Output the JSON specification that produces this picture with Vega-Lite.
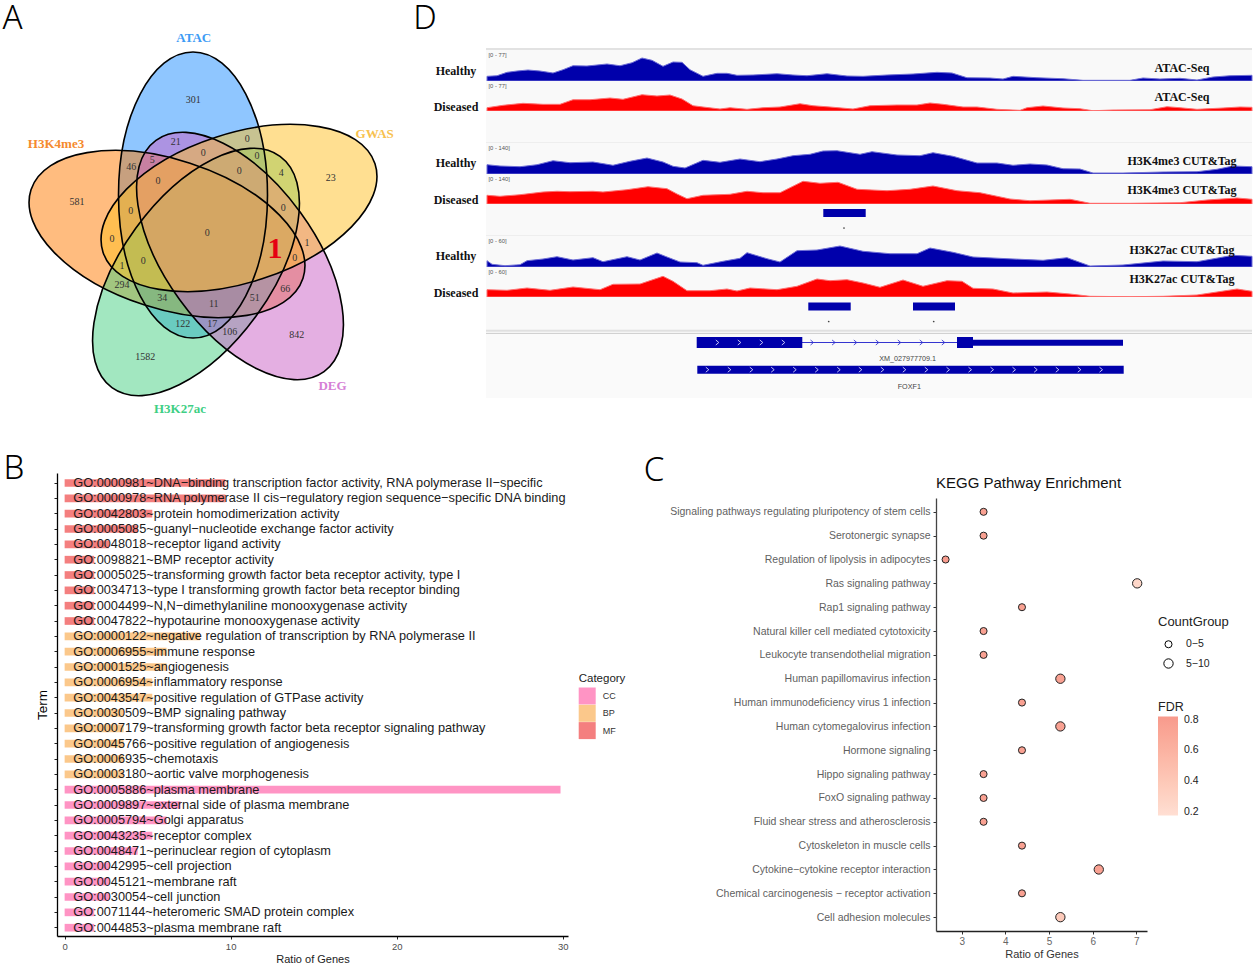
{"$schema":"https://vega.github.io/schema/vega-lite/v6.json","background":"white","padding":0,"spacing":-21,
"config":{"view":{"stroke":null},"axis":{"grid":false,"labelFont":"Liberation Sans","titleFont":"Liberation Sans","titleFontWeight":"normal"},"legend":{"labelFont":"Liberation Sans","titleFont":"Liberation Sans","titleFontWeight":"normal"}},
"resolve":{"scale":{"fill":"independent","size":"independent"}},
"datasets":{
"sets":[{"set":"ATAC","cx":193,"cy":195},{"set":"H3K4me3","cx":167,"cy":234},{"set":"GWAS","cx":239,"cy":208},{"set":"H3K27ac","cx":196,"cy":272},{"set":"DEG","cx":240,"cy":256}],
"setLabels":[{"label":"ATAC","x":193.7,"y":37.5,"c":"ATAC"},{"label":"H3K4me3","x":56,"y":144,"c":"H3K4me3"},{"label":"GWAS","x":374.7,"y":133.7,"c":"GWAS"},{"label":"DEG","x":332.5,"y":386,"c":"DEG"},{"label":"H3K27ac","x":180,"y":408.5,"c":"H3K27ac"}],
"counts":[{"n":"301","x":193.3,"y":99.5},{"n":"581","x":77,"y":202},{"n":"23","x":330.7,"y":177.5},{"n":"1582","x":145.3,"y":357},{"n":"842","x":296.7,"y":335},{"n":"21","x":175.7,"y":142},{"n":"46","x":131.3,"y":166.7},{"n":"5","x":152.3,"y":160},{"n":"0","x":247.3,"y":139},{"n":"0","x":257,"y":155.7},{"n":"0","x":203.3,"y":152.7},{"n":"4","x":281.3,"y":173},{"n":"0","x":239.3,"y":171},{"n":"0","x":158,"y":181},{"n":"0","x":283.3,"y":208},{"n":"0","x":130.7,"y":210.7},{"n":"0","x":112,"y":239.3},{"n":"1","x":307,"y":242.7},{"n":"0","x":207.3,"y":233.3},{"n":"0","x":294.7,"y":258},{"n":"1","x":122,"y":265.7},{"n":"0","x":143.3,"y":261},{"n":"294","x":122,"y":285},{"n":"66","x":285.3,"y":289},{"n":"34","x":162.3,"y":298},{"n":"51","x":254.7,"y":298.3},{"n":"11","x":213.7,"y":303.7},{"n":"122","x":182.7,"y":324.3},{"n":"17","x":212.3,"y":324.3},{"n":"106","x":229.7,"y":332}],
"atacH":[{"pos":1,"signal":11.7},{"pos":11,"signal":13.2},{"pos":21,"signal":21.7},{"pos":31,"signal":25},{"pos":42,"signal":27.5},{"pos":54,"signal":25},{"pos":67,"signal":20},{"pos":77,"signal":28.2},{"pos":87,"signal":38.2},{"pos":101,"signal":37.5},{"pos":121,"signal":42.5},{"pos":134,"signal":38.2},{"pos":146,"signal":45.7},{"pos":156,"signal":57.5},{"pos":166,"signal":51.7},{"pos":177,"signal":36.7},{"pos":187,"signal":47.5},{"pos":196,"signal":46.7},{"pos":204,"signal":28.2},{"pos":217,"signal":11.7},{"pos":231,"signal":19.2},{"pos":241,"signal":19.2},{"pos":251,"signal":14.2},{"pos":267,"signal":15},{"pos":291,"signal":18.2},{"pos":307,"signal":15},{"pos":321,"signal":13.2},{"pos":341,"signal":18.2},{"pos":361,"signal":12.5},{"pos":377,"signal":11.7},{"pos":401,"signal":15},{"pos":427,"signal":17.5},{"pos":451,"signal":21.7},{"pos":466,"signal":20},{"pos":481,"signal":8.2},{"pos":504,"signal":7.5},{"pos":517,"signal":5},{"pos":527,"signal":11.7},{"pos":551,"signal":8.2},{"pos":577,"signal":5.7},{"pos":597,"signal":1.7},{"pos":644,"signal":1.7},{"pos":657,"signal":7.5},{"pos":674,"signal":5},{"pos":694,"signal":6.7},{"pos":711,"signal":2.5},{"pos":727,"signal":10},{"pos":744,"signal":13.2},{"pos":766,"signal":14.2}],
"atacD":[{"pos":1,"signal":8.2},{"pos":17,"signal":14.2},{"pos":37,"signal":19.2},{"pos":57,"signal":16.7},{"pos":74,"signal":16.7},{"pos":87,"signal":28.2},{"pos":104,"signal":28.2},{"pos":124,"signal":32.5},{"pos":137,"signal":29.2},{"pos":156,"signal":40.7},{"pos":171,"signal":37.5},{"pos":184,"signal":40},{"pos":196,"signal":30},{"pos":207,"signal":13.2},{"pos":217,"signal":10},{"pos":234,"signal":5},{"pos":244,"signal":8.2},{"pos":261,"signal":4.2},{"pos":277,"signal":8.2},{"pos":294,"signal":10},{"pos":314,"signal":18.2},{"pos":327,"signal":13.2},{"pos":344,"signal":10},{"pos":367,"signal":5},{"pos":384,"signal":13.2},{"pos":411,"signal":15},{"pos":431,"signal":15},{"pos":444,"signal":20},{"pos":457,"signal":16.7},{"pos":477,"signal":10},{"pos":491,"signal":10},{"pos":511,"signal":4.2},{"pos":534,"signal":1.7},{"pos":541,"signal":8.2},{"pos":557,"signal":12.5},{"pos":577,"signal":7.5},{"pos":594,"signal":5.7},{"pos":607,"signal":0.7},{"pos":627,"signal":2.5},{"pos":664,"signal":3.2},{"pos":681,"signal":10.7},{"pos":694,"signal":8.2},{"pos":711,"signal":4.2},{"pos":737,"signal":7.5},{"pos":754,"signal":10},{"pos":766,"signal":9.2}],
"k4H":[{"pos":1,"signal":41.8},{"pos":14,"signal":36},{"pos":34,"signal":32.8},{"pos":51,"signal":41.8},{"pos":67,"signal":59.8},{"pos":84,"signal":50.8},{"pos":107,"signal":54},{"pos":127,"signal":39.2},{"pos":144,"signal":57.2},{"pos":161,"signal":72},{"pos":177,"signal":54},{"pos":187,"signal":34.6},{"pos":199,"signal":27},{"pos":217,"signal":61.6},{"pos":234,"signal":52.6},{"pos":254,"signal":67.5},{"pos":274,"signal":55.4},{"pos":291,"signal":67.5},{"pos":307,"signal":82.4},{"pos":324,"signal":88.6},{"pos":337,"signal":103.5},{"pos":351,"signal":104.8},{"pos":374,"signal":88.6},{"pos":386,"signal":100.4},{"pos":411,"signal":85.5},{"pos":434,"signal":82.4},{"pos":447,"signal":95.8},{"pos":467,"signal":79.6},{"pos":491,"signal":49.5},{"pos":511,"signal":49.5},{"pos":527,"signal":39.2},{"pos":544,"signal":45},{"pos":561,"signal":40.5},{"pos":577,"signal":23.8},{"pos":594,"signal":22.5},{"pos":607,"signal":4.5},{"pos":637,"signal":4.5},{"pos":677,"signal":9},{"pos":711,"signal":10.4},{"pos":731,"signal":21.2},{"pos":747,"signal":36},{"pos":766,"signal":32.8}],
"k4D":[{"pos":1,"signal":39.2},{"pos":14,"signal":34.6},{"pos":34,"signal":41.8},{"pos":57,"signal":54},{"pos":71,"signal":57.2},{"pos":84,"signal":55.4},{"pos":107,"signal":57.2},{"pos":117,"signal":54},{"pos":141,"signal":64.4},{"pos":162,"signal":77.8},{"pos":181,"signal":68.8},{"pos":191,"signal":45},{"pos":201,"signal":23.8},{"pos":217,"signal":39.2},{"pos":244,"signal":43.6},{"pos":261,"signal":57.2},{"pos":277,"signal":50.8},{"pos":294,"signal":50.8},{"pos":317,"signal":102.2},{"pos":334,"signal":93.2},{"pos":352,"signal":97.6},{"pos":371,"signal":66.2},{"pos":401,"signal":59.8},{"pos":424,"signal":66.2},{"pos":447,"signal":81},{"pos":471,"signal":59.8},{"pos":494,"signal":50.8},{"pos":524,"signal":22.5},{"pos":544,"signal":14.8},{"pos":584,"signal":21.2},{"pos":604,"signal":3.2},{"pos":644,"signal":3.2},{"pos":694,"signal":5.8},{"pos":721,"signal":18},{"pos":751,"signal":27},{"pos":766,"signal":21.2}],
"k27H":[{"pos":1,"signal":12.6},{"pos":6,"signal":5.4},{"pos":19,"signal":2.6},{"pos":34,"signal":4.6},{"pos":41,"signal":12.6},{"pos":57,"signal":16},{"pos":71,"signal":20.6},{"pos":87,"signal":14},{"pos":107,"signal":18.6},{"pos":117,"signal":10.6},{"pos":141,"signal":20.6},{"pos":154,"signal":14},{"pos":171,"signal":28},{"pos":181,"signal":20},{"pos":194,"signal":10},{"pos":211,"signal":8.6},{"pos":217,"signal":3.4},{"pos":237,"signal":11.4},{"pos":254,"signal":17.4},{"pos":261,"signal":28.6},{"pos":281,"signal":16.6},{"pos":294,"signal":10},{"pos":311,"signal":32.6},{"pos":331,"signal":34},{"pos":354,"signal":42},{"pos":377,"signal":31.4},{"pos":404,"signal":26.6},{"pos":431,"signal":26.6},{"pos":444,"signal":38},{"pos":467,"signal":29.4},{"pos":487,"signal":20},{"pos":521,"signal":16.6},{"pos":557,"signal":13.4},{"pos":581,"signal":18.6},{"pos":604,"signal":2},{"pos":637,"signal":4},{"pos":677,"signal":12},{"pos":711,"signal":10.6},{"pos":747,"signal":23.4},{"pos":766,"signal":21.4}],
"k27D":[{"pos":1,"signal":14.6},{"pos":21,"signal":13.4},{"pos":41,"signal":18},{"pos":64,"signal":13.4},{"pos":87,"signal":20},{"pos":114,"signal":14.6},{"pos":127,"signal":25.4},{"pos":154,"signal":26},{"pos":177,"signal":41.4},{"pos":187,"signal":31.4},{"pos":201,"signal":12.6},{"pos":224,"signal":12.6},{"pos":241,"signal":16},{"pos":251,"signal":12},{"pos":264,"signal":18},{"pos":291,"signal":14.6},{"pos":311,"signal":21.4},{"pos":331,"signal":36},{"pos":344,"signal":32.6},{"pos":361,"signal":34.6},{"pos":377,"signal":28},{"pos":394,"signal":19.4},{"pos":417,"signal":34},{"pos":437,"signal":21.4},{"pos":461,"signal":32.6},{"pos":476,"signal":31.4},{"pos":487,"signal":17.4},{"pos":507,"signal":16},{"pos":527,"signal":8},{"pos":561,"signal":10},{"pos":584,"signal":6},{"pos":604,"signal":1.4},{"pos":644,"signal":0.6},{"pos":677,"signal":1.4},{"pos":711,"signal":4},{"pos":751,"signal":16},{"pos":766,"signal":11.4}],
"terms":[{"term":"GO:0000981~DNA−binding transcription factor activity, RNA polymerase II−specific","category":"MF","ratio":9.68},{"term":"GO:0000978~RNA polymerase II cis−regulatory region sequence−specific DNA binding","category":"MF","ratio":9.68},{"term":"GO:0042803~protein homodimerization activity","category":"MF","ratio":5.28},{"term":"GO:0005085~guanyl−nucleotide exchange factor activity","category":"MF","ratio":4.4},{"term":"GO:0048018~receptor ligand activity","category":"MF","ratio":2.67},{"term":"GO:0098821~BMP receptor activity","category":"MF","ratio":1.78},{"term":"GO:0005025~transforming growth factor beta receptor activity, type I","category":"MF","ratio":1.78},{"term":"GO:0034713~type I transforming growth factor beta receptor binding","category":"MF","ratio":1.78},{"term":"GO:0004499~N,N−dimethylaniline monooxygenase activity","category":"MF","ratio":1.78},{"term":"GO:0047822~hypotaurine monooxygenase activity","category":"MF","ratio":1.78},{"term":"GO:0000122~negative regulation of transcription by RNA polymerase II","category":"BP","ratio":8.15},{"term":"GO:0006955~immune response","category":"BP","ratio":6.14},{"term":"GO:0001525~angiogenesis","category":"BP","ratio":6.14},{"term":"GO:0006954~inflammatory response","category":"BP","ratio":5.28},{"term":"GO:0043547~positive regulation of GTPase activity","category":"BP","ratio":5.28},{"term":"GO:0030509~BMP signaling pathway","category":"BP","ratio":3.55},{"term":"GO:0007179~transforming growth factor beta receptor signaling pathway","category":"BP","ratio":3.55},{"term":"GO:0045766~positive regulation of angiogenesis","category":"BP","ratio":3.55},{"term":"GO:0006935~chemotaxis","category":"BP","ratio":3.55},{"term":"GO:0003180~aortic valve morphogenesis","category":"BP","ratio":3.55},{"term":"GO:0005886~plasma membrane","category":"CC","ratio":29.87},{"term":"GO:0009897~external side of plasma membrane","category":"CC","ratio":6.98},{"term":"GO:0005794~Golgi apparatus","category":"CC","ratio":6.14},{"term":"GO:0043235~receptor complex","category":"CC","ratio":5.28},{"term":"GO:0048471~perinuclear region of cytoplasm","category":"CC","ratio":4.4},{"term":"GO:0042995~cell projection","category":"CC","ratio":2.67},{"term":"GO:0045121~membrane raft","category":"CC","ratio":2.67},{"term":"GO:0030054~cell junction","category":"CC","ratio":2.67},{"term":"GO:0071144~heteromeric SMAD protein complex","category":"CC","ratio":1.78},{"term":"GO:0044853~plasma membrane raft","category":"CC","ratio":1.78}],
"kegg":[{"term":"Signaling pathways regulating pluripotency of stem cells","ratio":3.5,"group":"0−5","fdr":0.76},{"term":"Serotonergic synapse","ratio":3.5,"group":"0−5","fdr":0.76},{"term":"Regulation of lipolysis in adipocytes","ratio":2.63,"group":"0−5","fdr":0.8},{"term":"Ras signaling pathway","ratio":7.02,"group":"5−10","fdr":0.25},{"term":"Rap1 signaling pathway","ratio":4.38,"group":"0−5","fdr":0.76},{"term":"Natural killer cell mediated cytotoxicity","ratio":3.5,"group":"0−5","fdr":0.76},{"term":"Leukocyte transendothelial migration","ratio":3.5,"group":"0−5","fdr":0.76},{"term":"Human papillomavirus infection","ratio":5.26,"group":"5−10","fdr":0.76},{"term":"Human immunodeficiency virus 1 infection","ratio":4.38,"group":"0−5","fdr":0.76},{"term":"Human cytomegalovirus infection","ratio":5.26,"group":"5−10","fdr":0.76},{"term":"Hormone signaling","ratio":4.38,"group":"0−5","fdr":0.76},{"term":"Hippo signaling pathway","ratio":3.5,"group":"0−5","fdr":0.76},{"term":"FoxO signaling pathway","ratio":3.5,"group":"0−5","fdr":0.76},{"term":"Fluid shear stress and atherosclerosis","ratio":3.5,"group":"0−5","fdr":0.76},{"term":"Cytoskeleton in muscle cells","ratio":4.38,"group":"0−5","fdr":0.76},{"term":"Cytokine−cytokine receptor interaction","ratio":6.14,"group":"5−10","fdr":0.76},{"term":"Chemical carcinogenesis − receptor activation","ratio":4.38,"group":"0−5","fdr":0.76},{"term":"Cell adhesion molecules","ratio":5.26,"group":"5−10","fdr":0.38}]
},
"vconcat":[
{"bounds":"flush","spacing":0,"hconcat":[
{"width":486,"height":473,"encoding":{"x":{"field":"cx","type":"quantitative","scale":{"domain":[0,486],"nice":false},"axis":null},"y":{"field":"cy","type":"quantitative","scale":{"domain":[473,0],"nice":false},"axis":null}},
"layer":[
{"data":{"name":"sets"},"transform":[{"filter":"datum.set==='ATAC'"}],"mark":{"type":"point","filled":true,"opacity":1,"size":4,"shape":"M0 -143 A74.5 143 0 1 1 0 143 A74.5 143 0 1 1 0 -143 Z","fill":"#1F8DFF","fillOpacity":0.5,"strokeWidth":0}},
{"data":{"name":"sets"},"transform":[{"filter":"datum.set==='H3K4me3'"}],"mark":{"type":"point","filled":true,"opacity":1,"size":4,"shape":"M136 44.2 A143 74.5 18 1 1 -136 -44.2 A143 74.5 18 1 1 136 44.2 Z","fill":"#FF7900","fillOpacity":0.5,"strokeWidth":0}},
{"data":{"name":"sets"},"transform":[{"filter":"datum.set==='H3K27ac'"}],"mark":{"type":"point","filled":true,"opacity":1,"size":4,"shape":"M84.05 -115.7 A143 74.5 -54 1 1 -84.05 115.7 A143 74.5 -54 1 1 84.05 -115.7 Z","fill":"#45CF81","fillOpacity":0.5,"strokeWidth":0}},
{"data":{"name":"sets"},"transform":[{"filter":"datum.set==='DEG'"}],"mark":{"type":"point","filled":true,"opacity":1,"size":4,"shape":"M84.05 115.7 A143 74.5 54 1 1 -84.05 -115.7 A143 74.5 54 1 1 84.05 115.7 Z","fill":"#C95FC5","fillOpacity":0.5,"strokeWidth":0}},
{"data":{"name":"sets"},"transform":[{"filter":"datum.set==='GWAS'"}],"mark":{"type":"point","filled":true,"opacity":1,"size":4,"shape":"M136 -44.2 A143 74.5 -18 1 1 -136 44.2 A143 74.5 -18 1 1 136 -44.2 Z","fill":"#FFBF23","fillOpacity":0.5,"strokeWidth":0}},
{"data":{"name":"sets"},"transform":[{"filter":"datum.set==='ATAC'"}],"mark":{"type":"point","opacity":1,"size":4,"shape":"M0 -143 A74.5 143 0 1 1 0 143 A74.5 143 0 1 1 0 -143 Z","stroke":"#000","strokeWidth":1.6}},
{"data":{"name":"sets"},"transform":[{"filter":"datum.set==='H3K4me3'"}],"mark":{"type":"point","opacity":1,"size":4,"shape":"M136 44.2 A143 74.5 18 1 1 -136 -44.2 A143 74.5 18 1 1 136 44.2 Z","stroke":"#000","strokeWidth":1.6}},
{"data":{"name":"sets"},"transform":[{"filter":"datum.set==='GWAS'"}],"mark":{"type":"point","opacity":1,"size":4,"shape":"M136 -44.2 A143 74.5 -18 1 1 -136 44.2 A143 74.5 -18 1 1 136 -44.2 Z","stroke":"#000","strokeWidth":1.6}},
{"data":{"name":"sets"},"transform":[{"filter":"datum.set==='H3K27ac'"}],"mark":{"type":"point","opacity":1,"size":4,"shape":"M84.05 -115.7 A143 74.5 -54 1 1 -84.05 115.7 A143 74.5 -54 1 1 84.05 -115.7 Z","stroke":"#000","strokeWidth":1.6}},
{"data":{"name":"sets"},"transform":[{"filter":"datum.set==='DEG'"}],"mark":{"type":"point","opacity":1,"size":4,"shape":"M84.05 115.7 A143 74.5 54 1 1 -84.05 -115.7 A143 74.5 54 1 1 84.05 115.7 Z","stroke":"#000","strokeWidth":1.6}},
{"data":{"name":"counts"},"mark":{"type":"text","font":"Liberation Serif","fontSize":10,"color":"#333"},"encoding":{"x":{"field":"x","type":"quantitative"},"y":{"field":"y","type":"quantitative"},"text":{"field":"n"}}},
{"data":{"values":[{"n":"1","x":275,"y":249}]},"mark":{"type":"text","font":"Liberation Serif","fontWeight":"bold","fontSize":30,"color":"#E60012"},"encoding":{"x":{"field":"x","type":"quantitative"},"y":{"field":"y","type":"quantitative"},"text":{"field":"n"}}},
{"data":{"name":"setLabels"},"mark":{"type":"text","font":"Liberation Serif","fontWeight":"bold","fontSize":13},"encoding":{"x":{"field":"x","type":"quantitative"},"y":{"field":"y","type":"quantitative"},"text":{"field":"label"},"color":{"field":"c","type":"nominal","legend":null,"scale":{"domain":["ATAC","H3K4me3","GWAS","DEG","H3K27ac"],"range":["#3D9BF5","#F58A2E","#F7C14E","#D67FD6","#3FCF85"]}}}},
{"data":{"values":[{"n":"A","x":12.5,"y":19},{"n":"D","x":425,"y":19}]},"mark":{"type":"text","font":"Noto Sans","fontWeight":300,"fontSize":33,"color":"#000"},"encoding":{"x":{"field":"x","type":"quantitative"},"y":{"field":"y","type":"quantitative"},"text":{"field":"n"}}}
]},
{"bounds":"flush","spacing":0,"vconcat":[
{"width":766,"height":50,"data":{"values":[{"y":49}]},"mark":{"type":"rule","color":"#e2e2e2","strokeWidth":2},"encoding":{"y":{"field":"y","type":"quantitative","scale":{"domain":[50,0],"nice":false},"axis":null}}},
{"width":766,"height":31,"view":{"fill":"#f9f9f9"},"encoding":{"x":{"field":"pos","type":"quantitative","scale":{"domain":[0,766],"nice":false},"axis":null},"y":{"field":"signal","type":"quantitative","stack":null,"scale":{"domain":[0,77.5],"nice":false},"axis":null}},"layer":[
{"data":{"name":"atacH"},"mark":{"type":"area","orient":"vertical","color":"#0000AB","stroke":"#6E6ED6","strokeWidth":1}},
{"data":{"values":[{"label":"Healthy","pos":-30,"signal":26},{"label":"ATAC-Seq","pos":696,"signal":33.7}]},"mark":{"type":"text","font":"Liberation Serif","fontWeight":"bold","fontSize":12,"color":"#111"},"encoding":{"text":{"field":"label"}}},
{"data":{"values":[{"label":"[0 - 77]","pos":2.5,"signal":66}]},"mark":{"type":"text","align":"left","font":"Liberation Sans","fontSize":5.8,"color":"#555"},"encoding":{"text":{"field":"label"}}}]},
{"width":766,"height":30,"view":{"fill":"#f9f9f9"},"encoding":{"x":{"field":"pos","type":"quantitative","scale":{"domain":[0,766],"nice":false},"axis":null},"y":{"field":"signal","type":"quantitative","stack":null,"scale":{"domain":[0,75],"nice":false},"axis":null}},"layer":[
{"data":{"name":"atacD"},"mark":{"type":"area","orient":"vertical","color":"#FF0000","stroke":"#FF7070","strokeWidth":1}},
{"data":{"values":[{"label":"Diseased","pos":-30,"signal":11},{"label":"ATAC-Seq","pos":696,"signal":36.2}]},"mark":{"type":"text","font":"Liberation Serif","fontWeight":"bold","fontSize":12,"color":"#111"},"encoding":{"text":{"field":"label"}}},
{"data":{"values":[{"label":"[0 - 77]","pos":2.5,"signal":63.7}]},"mark":{"type":"text","align":"left","font":"Liberation Sans","fontSize":5.8,"color":"#555"},"encoding":{"text":{"field":"label"}}}]},
{"width":766,"height":32,"view":{"fill":"#f9f9f9"},"data":{"values":[{"y":31.5}]},"mark":{"type":"rule","color":"#eeeeee","strokeWidth":1},"encoding":{"y":{"field":"y","type":"quantitative","scale":{"domain":[32,0],"nice":false},"axis":null}}},
{"width":766,"height":31,"view":{"fill":"#f9f9f9"},"encoding":{"x":{"field":"pos","type":"quantitative","scale":{"domain":[0,766],"nice":false},"axis":null},"y":{"field":"signal","type":"quantitative","stack":null,"scale":{"domain":[0,139.5],"nice":false},"axis":null}},"layer":[
{"data":{"name":"k4H"},"mark":{"type":"area","orient":"vertical","color":"#0000AB","stroke":"#6E6ED6","strokeWidth":1}},
{"data":{"values":[{"label":"Healthy","pos":-30,"signal":49.5},{"label":"H3K4me3 CUT&Tag","pos":696,"signal":60.7}]},"mark":{"type":"text","font":"Liberation Serif","fontWeight":"bold","fontSize":12,"color":"#111"},"encoding":{"text":{"field":"label"}}},
{"data":{"values":[{"label":"[0 - 140]","pos":2.5,"signal":117}]},"mark":{"type":"text","align":"left","font":"Liberation Sans","fontSize":5.8,"color":"#555"},"encoding":{"text":{"field":"label"}}}]},
{"width":766,"height":30,"view":{"fill":"#f9f9f9"},"encoding":{"x":{"field":"pos","type":"quantitative","scale":{"domain":[0,766],"nice":false},"axis":null},"y":{"field":"signal","type":"quantitative","stack":null,"scale":{"domain":[0,135],"nice":false},"axis":null}},"layer":[
{"data":{"name":"k4D"},"mark":{"type":"area","orient":"vertical","color":"#FF0000","stroke":"#FF7070","strokeWidth":1}},
{"data":{"values":[{"label":"Diseased","pos":-30,"signal":20},{"label":"H3K4me3 CUT&Tag","pos":696,"signal":63}]},"mark":{"type":"text","font":"Liberation Serif","fontWeight":"bold","fontSize":12,"color":"#111"},"encoding":{"text":{"field":"label"}}},
{"data":{"values":[{"label":"[0 - 140]","pos":2.5,"signal":112.5}]},"mark":{"type":"text","align":"left","font":"Liberation Sans","fontSize":5.8,"color":"#555"},"encoding":{"text":{"field":"label"}}}]},
{"width":766,"height":32,"view":{"fill":"#f9f9f9"},"data":{"values":[{"start":337.3,"end":379.7,"mid":358}]},"layer":[
{"mark":{"type":"rect","color":"#0000AB"},"encoding":{"x":{"field":"start","type":"quantitative","scale":{"domain":[0,766],"nice":false},"axis":null},"x2":{"field":"end"},"y":{"datum":5,"type":"quantitative","scale":{"domain":[32,0],"nice":false},"axis":null},"y2":{"datum":13}}},
{"mark":{"type":"point","filled":true,"opacity":1,"size":3,"color":"#444"},"encoding":{"x":{"field":"mid","type":"quantitative"},"y":{"datum":24,"type":"quantitative"}}},
{"mark":{"type":"rule","color":"#eeeeee","strokeWidth":1},"encoding":{"y":{"datum":31.5,"type":"quantitative"}}}]},
{"width":766,"height":31,"view":{"fill":"#f9f9f9"},"encoding":{"x":{"field":"pos","type":"quantitative","scale":{"domain":[0,766],"nice":false},"axis":null},"y":{"field":"signal","type":"quantitative","stack":null,"scale":{"domain":[0,62],"nice":false},"axis":null}},"layer":[
{"data":{"name":"k27H"},"mark":{"type":"area","orient":"vertical","color":"#0000AB","stroke":"#6E6ED6","strokeWidth":1}},
{"data":{"values":[{"label":"Healthy","pos":-30,"signal":22},{"label":"H3K27ac CUT&Tag","pos":696,"signal":35}]},"mark":{"type":"text","font":"Liberation Serif","fontWeight":"bold","fontSize":12,"color":"#111"},"encoding":{"text":{"field":"label"}}},
{"data":{"values":[{"label":"[0 - 60]","pos":2.5,"signal":52}]},"mark":{"type":"text","align":"left","font":"Liberation Sans","fontSize":5.8,"color":"#555"},"encoding":{"text":{"field":"label"}}}]},
{"width":766,"height":30,"view":{"fill":"#f9f9f9"},"encoding":{"x":{"field":"pos","type":"quantitative","scale":{"domain":[0,766],"nice":false},"axis":null},"y":{"field":"signal","type":"quantitative","stack":null,"scale":{"domain":[0,60],"nice":false},"axis":null}},"layer":[
{"data":{"name":"k27D"},"mark":{"type":"area","orient":"vertical","color":"#FF0000","stroke":"#FF7070","strokeWidth":1}},
{"data":{"values":[{"label":"Diseased","pos":-30,"signal":8},{"label":"H3K27ac CUT&Tag","pos":696,"signal":36}]},"mark":{"type":"text","font":"Liberation Serif","fontWeight":"bold","fontSize":12,"color":"#111"},"encoding":{"text":{"field":"label"}}},
{"data":{"values":[{"label":"[0 - 60]","pos":2.5,"signal":50}]},"mark":{"type":"text","align":"left","font":"Liberation Sans","fontSize":5.8,"color":"#555"},"encoding":{"text":{"field":"label"}}}]},
{"width":766,"height":33,"view":{"fill":"#f9f9f9"},"data":{"values":[{"start":322.3,"end":364.7,"mid":342.7},{"start":427,"end":469,"mid":447.7}]},"layer":[
{"mark":{"type":"rect","color":"#0000AB"},"encoding":{"x":{"field":"start","type":"quantitative","scale":{"domain":[0,766],"nice":false},"axis":null},"x2":{"field":"end"},"y":{"datum":5.5,"type":"quantitative","scale":{"domain":[33,0],"nice":false},"axis":null},"y2":{"datum":13.5}}},
{"mark":{"type":"point","filled":true,"opacity":1,"size":3,"color":"#444"},"encoding":{"x":{"field":"mid","type":"quantitative"},"y":{"datum":24.5,"type":"quantitative"}}}]},
{"width":766,"height":68,"view":{"fill":"#fafafa"},"layer":[
{"data":{"values":[{"y":0.8,"c":"a"}]},"mark":{"type":"rule","color":"#e0e0e0","strokeWidth":2},"encoding":{"y":{"field":"y","type":"quantitative","scale":{"domain":[68,0],"nice":false},"axis":null}}},
{"data":{"values":[{"y":3.4}]},"mark":{"type":"rule","color":"#cccccc","strokeWidth":1},"encoding":{"y":{"field":"y","type":"quantitative"}}},
{"data":{"values":[{"start":316,"end":471}]},"mark":{"type":"rule","color":"#3535D0","strokeWidth":1},"encoding":{"x":{"field":"start","type":"quantitative","scale":{"domain":[0,766],"nice":false},"axis":null},"x2":{"field":"end"},"y":{"datum":12.5,"type":"quantitative"}}},
{"data":{"values":[{"start":210.7,"end":316.3},{"start":471,"end":487}]},"mark":{"type":"rect","color":"#0000AB"},"encoding":{"x":{"field":"start","type":"quantitative"},"x2":{"field":"end"},"y":{"datum":7,"type":"quantitative"},"y2":{"datum":18}}},
{"data":{"values":[{"start":487,"end":637}]},"mark":{"type":"rect","color":"#0000AB"},"encoding":{"x":{"field":"start","type":"quantitative"},"x2":{"field":"end"},"y":{"datum":9.7,"type":"quantitative"},"y2":{"datum":15.7}}},
{"data":{"values":[{"start":211.3,"end":637.7}]},"mark":{"type":"rect","color":"#0000AB"},"encoding":{"x":{"field":"start","type":"quantitative"},"x2":{"field":"end"},"y":{"datum":35.7,"type":"quantitative"},"y2":{"datum":43.7}}},
{"data":{"values":[{"pos":231.3},{"pos":253.3},{"pos":275.3},{"pos":297.3}]},"mark":{"type":"point","opacity":1,"size":25,"shape":"M-0.6 -1 L0.6 0 L-0.6 1","stroke":"#D8D8FF","strokeWidth":0.9},"encoding":{"x":{"field":"pos","type":"quantitative"},"y":{"datum":12.5,"type":"quantitative"}}},
{"data":{"values":[{"pos":326},{"pos":347.6},{"pos":369.3},{"pos":391.3},{"pos":413.3},{"pos":435.3},{"pos":457.3}]},"mark":{"type":"point","opacity":1,"size":25,"shape":"M-0.6 -1 L0.6 0 L-0.6 1","stroke":"#3535D0","strokeWidth":0.9},"encoding":{"x":{"field":"pos","type":"quantitative"},"y":{"datum":12.5,"type":"quantitative"}}},
{"data":{"values":[{"pos":221.3},{"pos":243.3},{"pos":265.3},{"pos":286.7},{"pos":308.7},{"pos":330.7},{"pos":352.7},{"pos":374.3},{"pos":396.3},{"pos":418.3},{"pos":440.3},{"pos":462},{"pos":484},{"pos":506},{"pos":528},{"pos":549.7},{"pos":571.3},{"pos":593.3},{"pos":615}]},"mark":{"type":"point","opacity":1,"size":25,"shape":"M-0.6 -1 L0.6 0 L-0.6 1","stroke":"#D8D8FF","strokeWidth":0.9},"encoding":{"x":{"field":"pos","type":"quantitative"},"y":{"datum":39.7,"type":"quantitative"}}},
{"data":{"values":[{"label":"XM_027977709.1","pos":421.7,"y":29},{"label":"FOXF1","pos":423.3,"y":56.5}]},"mark":{"type":"text","font":"Liberation Sans","fontSize":7.2,"color":"#444"},"encoding":{"x":{"field":"pos","type":"quantitative"},"y":{"field":"y","type":"quantitative"},"text":{"field":"label"}}}
]}
]}
]},
{"bounds":"flush","spacing":0,"resolve":{"scale":{"fill":"independent","size":"independent"}},"hconcat":[
{"width":57,"height":463,"data":{"values":[{"n":"B","x":14,"y":469}]},"mark":{"type":"text","font":"Noto Sans","fontWeight":300,"fontSize":33,"color":"#000"},"encoding":{"x":{"field":"x","type":"quantitative","scale":{"domain":[0,57],"nice":false},"axis":null},"y":{"field":"y","type":"quantitative","scale":{"domain":[936,473],"nice":false},"axis":null},"text":{"field":"n"}}},
{"width":511,"height":463,"data":{"name":"terms"},"encoding":{"y":{"field":"term","type":"nominal","sort":null,"scale":{"paddingInner":0.5,"paddingOuter":0.347,"align":0.58},"axis":{"title":"Term","labels":false,"tickSize":3,"tickColor":"#222","domainColor":"#000","domainWidth":1.3,"titleFontSize":13.5,"titleColor":"#000","titlePadding":4}}},
"layer":[
{"mark":{"type":"bar"},"encoding":{"x":{"field":"ratio","type":"quantitative","scale":{"domain":[-0.46,30.32],"nice":false,"zero":false},"axis":{"title":"Ratio of Genes","values":[0,10,20,30],"tickSize":3,"tickColor":"#222","domainColor":"#000","domainWidth":1.3,"labelColor":"#4d4d4d","labelFontSize":9.5,"labelPadding":2,"titleFontSize":11,"titleColor":"#222","titlePadding":3}},"fill":{"field":"category","type":"nominal","scale":{"domain":["CC","BP","MF"],"range":["#FF94C4","#FBC88B","#F47F7F"]},"legend":{"orient":"none","legendX":521.7,"legendY":200,"title":"Category","titleFontSize":11.5,"titleColor":"#222","titlePadding":3,"labelFontSize":9,"labelColor":"#333","labelOffset":7,"symbolType":"square","symbolSize":289,"symbolStrokeWidth":0,"rowPadding":0.3}}}},
{"mark":{"type":"text","align":"left","font":"Liberation Sans","fontSize":12.75,"color":"#1a1a1a"},"encoding":{"x":{"datum":0.52,"type":"quantitative"},"text":{"field":"term"}}}
]},
{"width":368,"height":458,"data":{"values":[{"n":"C","x":654,"y":471}]},"mark":{"type":"text","font":"Noto Sans","fontWeight":300,"fontSize":33,"color":"#000"},"encoding":{"x":{"field":"x","type":"quantitative","scale":{"domain":[568,936],"nice":false},"axis":null},"y":{"field":"y","type":"quantitative","scale":{"domain":[931,473],"nice":false},"axis":null},"text":{"field":"n"}}},
{"bounds":"flush","spacing":0,"resolve":{"scale":{"fill":"independent","size":"independent"}},"vconcat":[
{"width":211,"height":25,"data":{"values":[{"label":"KEGG Pathway Enrichment","x":0,"y":10}]},"mark":{"type":"text","align":"left","font":"Liberation Sans","fontSize":15,"color":"#111"},"encoding":{"x":{"field":"x","type":"quantitative","scale":{"domain":[0,211],"nice":false},"axis":null},"y":{"field":"y","type":"quantitative","scale":{"domain":[25,0],"nice":false},"axis":null},"text":{"field":"label"}}},
{"width":211,"height":433,"data":{"name":"kegg"},"mark":{"type":"point","filled":true,"opacity":1,"stroke":"#222","strokeWidth":1},"encoding":{"x":{"field":"ratio","type":"quantitative","scale":{"domain":[2.41,7.245],"nice":false,"zero":false},"axis":{"title":"Ratio of Genes","values":[3,4,5,6,7],"tickSize":3,"tickColor":"#333","domainColor":"#222","domainWidth":1.3,"labelColor":"#666","labelFontSize":10,"labelPadding":2,"titleFontSize":11,"titleColor":"#333","titlePadding":2}},"y":{"field":"term","type":"nominal","sort":null,"scale":{"type":"point","padding":0.58},"axis":{"title":null,"tickSize":3,"tickColor":"#333","domainColor":"#444","domainWidth":1.3,"labelColor":"#5f5f5f","labelFontSize":10.5,"labelPadding":3,"labelLimit":400}},"fill":{"field":"fdr","type":"quantitative","scale":{"domain":[0.174,0.82],"range":["#FFDFD3","#F89A8C"],"nice":false,"zero":false},"legend":{"orient":"none","legendX":222,"legendY":203,"title":"FDR","titleFontSize":12.5,"titleColor":"#222","titlePadding":3,"labelFontSize":10.5,"labelColor":"#222","labelOffset":6,"gradientLength":99,"gradientThickness":20,"gradientStrokeWidth":0,"values":[0.2,0.4,0.6,0.8]}},"size":{"field":"group","type":"ordinal","scale":{"domain":["0−5","5−10"],"range":[50,87]},"legend":{"orient":"none","legendX":222,"legendY":117.5,"title":"CountGroup","titleFontSize":13,"titleColor":"#222","titlePadding":10.5,"labelFontSize":10.5,"labelColor":"#222","labelOffset":12,"symbolFillColor":"white","symbolStrokeColor":"#000","symbolStrokeWidth":1,"symbolOffset":5,"rowPadding":6}}}}
]}
]}
]}
